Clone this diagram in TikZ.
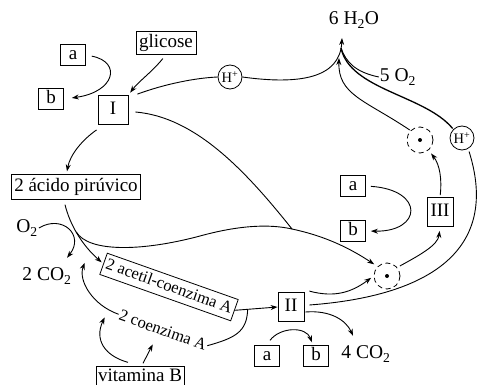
\documentclass[tikz,border=0pt]{standalone}
\usepackage{fontspec}
\setmainfont{Liberation Serif}
\usetikzlibrary{arrows.meta,calc}
\begin{document}
\begin{tikzpicture}[x=1pt,y=-1pt,
  bx/.style={draw,line width=0.8pt,inner sep=3pt,text height=12.5pt,text depth=4pt,font=\fontsize{19}{19}\selectfont},
  sbx/.style={bx,minimum width=25pt,inner sep=2pt},
  rbx/.style={bx,minimum width=26pt,minimum height=29pt},
  lbl/.style={inner sep=1pt,font=\fontsize{19.5}{19.5}\selectfont},
  hion/.style={draw,circle,inner sep=0pt,minimum size=24pt,line width=0.8pt,font=\fontsize{14.5}{14.5}\selectfont},
  dcirc/.style={draw,circle,minimum size=26pt,line width=0.8pt,dash pattern=on 5pt off 3.5pt},
  conn/.style={line width=0.9pt},
  arr/.style={conn,-{Stealth[length=7pt,width=5pt]}},
]
\useasboundingbox (0,0) rectangle (484,385);

% nodes
\node[sbx] (a1) at (73,55) {a};
\node[sbx] (b1) at (51,99) {b};
\node[bx] (gl) at (166,43) {glicose};
\node[rbx,minimum width=30pt] (I) at (113,110) {I};
\node[hion] (H1) at (230,77) {H\textsuperscript{+}};
\node[bx,text height=13.5pt,text depth=5pt] (ac) at (76,187) {2 ácido pirúvico};
\node[lbl] (O2) at (27,228) {O\textsubscript{2}};
\node[lbl] (CO2) at (47,276) {2 CO\textsubscript{2}};
\node[bx,rotate=-19.5,font=\fontsize{16.5}{16.5}\selectfont] (acetil) at (169,287) {2 acetil-coenzima A};
\node[lbl,rotate=-19.5,font=\fontsize{16.5}{16.5}\selectfont] (coe) at (163,330) {2 coenzima A};
\node[bx,inner sep=2pt] (vitB) at (140,377) {vitamina B};
\node[rbx] (II) at (291,307) {II};
\node[sbx] (a3) at (267,356) {a};
\node[sbx] (b3) at (316,356) {b};
\node[lbl] (CO2b) at (366,354) {4 CO\textsubscript{2}};
\node[dcirc] (dlow) at (387,276) {};
\fill (dlow) circle (2);
\node[sbx] (a2) at (353,186) {a};
\node[sbx] (b2) at (353,231) {b};
\node[rbx] (III) at (440,212) {III};
\node[dcirc] (dup) at (420,140) {};
\fill (dup) circle (2);
\node[hion] (H2) at (462,138) {H\textsuperscript{+}};
\node[lbl] (H2O) at (354,20) {6 H\textsubscript{2}O};
\node[lbl] (O2b) at (398,77) {5 O\textsubscript{2}};

\coordinate (top) at (342,38);
\coordinate (mid) at (339,58);
\coordinate (mrg) at (341,48);
\coordinate (j1) at (292,229);

% connectors
\draw[arr,shorten <=6pt,shorten >=8pt] (a1.east) .. controls (122,62) and (115,92) .. (b1.east);
\draw[arr,shorten <=5pt,shorten >=3pt] (gl.south) .. controls (152,72) and (138,82) .. (I.north east);
\draw[conn] ($(I.north east)+(9,-1)$) .. controls (165,84) and (195,78) .. (H1.west);
\draw[arr] (H1.east) .. controls (300,85) and (340,78) .. (top);
\draw[arr] ($(I.south west)+(-1,5)$) .. controls (82,140) and (70,155) .. ($(ac.north)+(-9,-3)$);
\draw[conn] ($(I.east)+(7,2)$) .. controls (195,117) and (245,170) .. (j1);
\draw[arr,shorten >=2pt] ($(ac.south)+(-11,5)$) .. controls (70,225) and (82,245) .. (acetil.west) coordinate[pos=0.45] (b0);
\draw[conn] (b0) .. controls (88,252) and (140,252) .. (200,236) .. controls (240,225) and (270,224) .. (j1);
\draw[arr,shorten >=4pt] (j1) .. controls (320,235) and (345,245) .. (dlow.north west);
\draw[arr] (O2.east) .. controls (62,214) and (85,235) .. ($(CO2.north)+(20,-9)$);
\draw[arr] (acetil.east) -- (II.west) coordinate[pos=0.3] (jA);
\draw[conn] (jA) .. controls (247,332) and (235,338) .. (coe.east);
\draw[arr] (coe.west) .. controls (92,305) and (78,280) .. ($(CO2.north east)+(12,-4)$);
\draw[arr] ($(vitB.north)+(-12,-4)$) .. controls (105,356) and (94,340) .. ($(coe.west)+(-14,3)$);
\draw[arr] ($(vitB.north)+(3,-3)$) -- ($(coe.south)+(-8,8)$);
\draw[arr,shorten >=3pt] ($(II.north east)+(5,-1)$) .. controls (335,298) and (352,292) .. (dlow.west);
\draw[conn,shorten >=3pt] ($(II.east)+(5,-2)$) .. controls (430,296) and (500,250) .. (H2.-60);
\draw[arr] ($(II.east)+(1,5)$) .. controls (330,310) and (346,320) .. ($(CO2b.north)+(-13,-9)$);
\draw[arr] ($(a3.north)+(3,-5)$) .. controls (280,327) and (306,326) .. ($(b3.north)+(-4,-3)$);
\draw[arr,shorten <=3pt,shorten >=4pt] (dlow.40) .. controls (420,255) and (438,245) .. (III.south);
\draw[arr,shorten <=5pt,shorten >=5pt] (a2.east) .. controls (425,190) and (422,232) .. (b2.east);
\draw[arr,shorten <=2pt,shorten >=4pt] (III.north) .. controls (442,180) and (440,165) .. (dup.-50);
\draw[arr,shorten <=1pt] (dup.north west) .. controls (365,100) and (338,95) .. (mid);
\draw[conn,line width=1.3pt,shorten <=1pt] (H2.north west) .. controls (425,95) and (350,90) .. (mrg);
\draw[conn] (O2b.west) .. controls (355,72) and (346,62) .. (mrg);
\end{tikzpicture}
\end{document}
